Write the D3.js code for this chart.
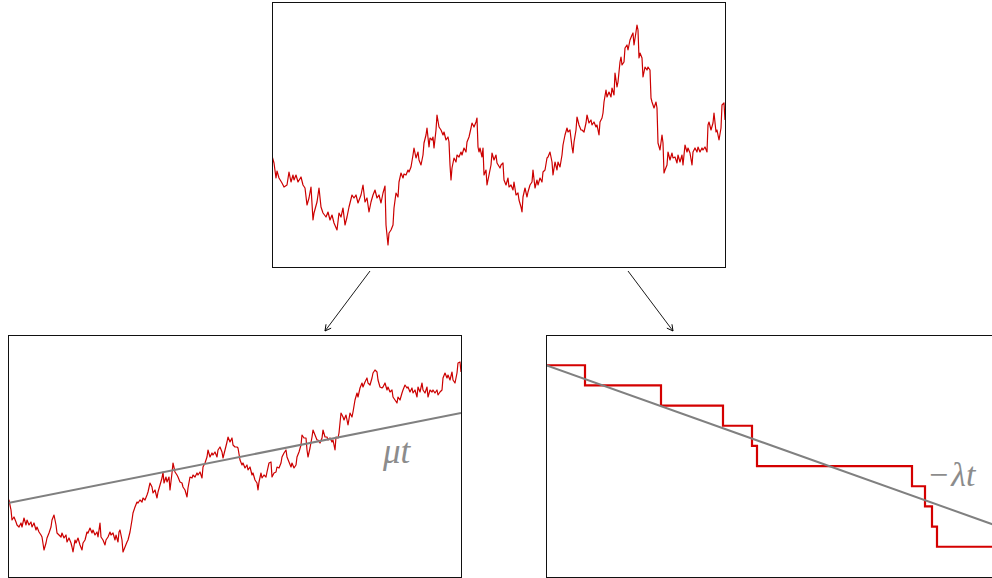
<!DOCTYPE html>
<html>
<head>
<meta charset="utf-8">
<script src="https://cdn.jsdelivr.net/npm/d3@7"></script>
<style>
  body { margin: 0; background: #fff; }
  svg { display: block; }
</style>
</head>
<body>
<div id="container"></div>
<script>
// time runs over 453 days in every panel
const period = 453;

// Levy process: drift + brownian + negative jumps  [day, level]
const levyPath = [
  [0,111],[2,104],[4,89],[5,96],[7,89],[10,84],[12,80],[15,82],[17,95],[19,85],[21,92],[22,87],[24,92],[26,85],
  [29,90],[31,82],[33,79],[35,62],[37,69],[39,80],[41,47],[42,54],[45,65],[47,79],[49,60],[51,54],[54,50],[56,55],
  [58,47],[60,52],[62,44],[65,37],[67,54],[69,50],[71,59],[73,42],[75,50],[77,60],[80,72],[82,69],[84,72],[86,64],
  [89,72],[91,82],[93,65],[95,69],[97,55],[99,65],[101,72],[103,77],[105,69],[107,72],[109,64],[111,74],[113,81],
  [114,42],[116,22],[117,34],[119,37],[121,42],[122,59],[124,74],[126,70],[127,85],[129,94],[131,89],[132,93],[134,92],
  [136,97],[137,95],[139,100],[141,112],[142,119],[144,109],[146,115],[147,107],[149,102],[151,112],[152,124],[154,132],
  [155,139],[157,120],[158,129],[160,127],[161,130],[162,119],[164,137],[165,152],[167,140],[169,137],[171,132],[172,135],
  [174,127],[176,130],[177,125],[178,102],[179,87],[180,99],[182,109],[184,105],[185,112],[187,110],[189,115],[190,112],
  [192,119],[194,115],[195,125],[197,130],[199,139],[200,144],[202,140],[204,145],[205,149],[206,120],[207,115],[208,119],
  [210,110],[211,119],[212,92],[214,97],[215,82],[217,92],[219,102],[220,114],[222,107],[224,112],[225,104],[228,99],
  [229,102],[231,104],[232,87],[234,82],[236,89],[237,80],[239,82],[241,77],[242,85],[244,72],[246,74],[247,67],[249,60],
  [250,55],[251,70],[253,79],[255,70],[256,75],[258,82],[260,85],[261,97],[263,79],[265,87],[266,82],[268,89],[270,85],
  [271,95],[273,97],[275,109],[276,110],[278,115],[280,105],[281,92],[283,105],[285,97],[286,105],[288,100],[290,112],
  [291,122],[293,132],[295,139],[296,135],[298,137],[300,120],[301,114],[302,125],[304,137],[305,150],[307,142],[309,137],
  [310,137],[312,135],[314,144],[315,152],[317,144],[319,147],[320,142],[322,145],[324,140],[325,142],[327,132],[328,145],
  [330,149],[331,154],[332,165],[334,177],[335,170],[337,175],[339,170],[340,179],[342,172],[343,194],[345,180],[346,185],
  [348,205],[349,210],[350,202],[352,205],[353,219],[355,222],[356,217],[358,227],[360,232],[361,234],[362,222],[364,235],
  [365,242],[366,237],[367,209],[368,214],[370,209],[371,190],[373,200],[375,197],[376,200],[378,197],[379,169],[380,165],
  [382,159],[384,165],[385,159],[386,124],[388,117],[390,132],[391,124],[392,94],[393,97],[395,102],[396,115],[398,107],
  [400,114],[401,109],[403,110],[405,104],[406,112],[408,105],[410,112],[411,102],[413,122],[415,115],[416,119],[418,114],
  [420,102],[421,115],[423,119],[425,115],[426,120],[428,115],[430,119],[431,117],[433,120],[435,115],[436,142],[437,145],
  [439,137],[441,144],[442,154],[444,135],[445,137],[447,127],[449,139],[450,162],[452,164],[453,147]
];

// brownian motion with drift  [day, level]
const driftPath = [
  [0,0],[1,3],[3,-7],[4,-17],[6,-14],[8,-19],[9,-22],[11,-24],[13,-20],[14,-24],[16,-15],[18,-22],[19,-17],[21,-22],
  [23,-19],[24,-24],[26,-20],[28,-27],[29,-24],[31,-29],[33,-32],[34,-34],[36,-47],[38,-40],[39,-35],[41,-30],[43,-24],
  [44,-17],[46,-12],[48,-22],[49,-30],[51,-32],[53,-34],[54,-30],[56,-35],[58,-32],[59,-39],[61,-35],[63,-40],[64,-44],
  [65,-49],[67,-37],[68,-40],[70,-35],[72,-42],[74,-47],[75,-40],[77,-37],[79,-29],[80,-30],[82,-25],[84,-30],[85,-27],
  [87,-32],[89,-29],[90,-34],[92,-20],[93,-34],[95,-37],[97,-42],[98,-37],[100,-34],[102,-29],[103,-32],[105,-30],
  [107,-37],[108,-32],[110,-39],[111,-29],[112,-27],[114,-37],[115,-49],[117,-44],[119,-39],[120,-37],[122,-29],[124,-17],
  [125,-10],[127,-4],[129,1],[130,0],[132,3],[134,1],[135,5],[137,3],[139,8],[140,11],[142,20],[144,16],[145,10],[147,13],
  [149,5],[150,11],[152,18],[154,25],[155,31],[156,20],[158,26],[159,21],[161,26],[162,13],[164,30],[165,40],[167,31],
  [169,28],[170,26],[172,21],[174,20],[175,16],[177,13],[179,6],[180,15],[182,26],[184,25],[185,28],[187,26],[189,30],
  [190,28],[192,31],[194,25],[195,36],[197,40],[199,46],[200,53],[202,46],[204,50],[205,48],[207,51],[209,46],[210,53],
  [212,56],[214,51],[215,45],[217,53],[219,61],[220,66],[222,61],[224,65],[225,58],[227,56],[229,56],[230,55],[232,43],
  [234,38],[235,40],[237,35],[239,38],[240,33],[242,36],[244,28],[245,30],[247,23],[249,20],[250,13],[251,21],[253,30],
  [254,25],[256,28],[258,26],[259,31],[261,40],[263,41],[264,26],[266,30],[268,31],[269,36],[271,35],[273,40],[274,46],
  [276,50],[278,53],[279,46],[281,41],[283,36],[284,40],[286,35],[288,38],[289,46],[291,51],[293,58],[294,68],[296,65],
  [298,65],[299,53],[300,46],[302,55],[304,66],[305,73],[307,68],[309,63],[310,63],[312,60],[314,65],[315,73],[317,66],
  [319,66],[320,63],[322,65],[324,61],[325,63],[327,53],[328,66],[330,65],[331,70],[333,90],[335,86],[336,83],[338,88],
  [340,78],[342,90],[344,86],[345,91],[347,103],[349,110],[350,106],[352,115],[354,120],[355,116],[357,121],[359,125],
  [360,120],[362,118],[364,125],[365,130],[367,133],[369,131],[370,123],[372,116],[374,115],[375,116],[377,120],[379,113],
  [380,116],[382,111],[384,113],[385,106],[387,103],[389,100],[390,106],[392,103],[394,110],[395,113],[397,118],[399,115],
  [400,116],[402,111],[404,115],[405,110],[407,113],[409,106],[410,116],[412,111],[414,120],[415,113],[417,110],[419,116],
  [420,106],[422,113],[424,111],[425,113],[427,110],[429,113],[430,108],[432,111],[434,113],[435,125],[437,130],[439,125],
  [440,128],[442,123],[444,131],[445,123],[447,120],[449,130],[450,140],[452,141],[453,131]
];
const mu = 90; // drift over the whole period

// compound poisson part: jump times and counting level
const jumpDays   = [0, 39, 115, 177, 206, 211, 366, 379, 386, 391, 453];
const jumpLevels = [0, -1, -2, -3, -4, -5, -6, -7, -8, -9, -9];
const lambda = 8; // expected jumps over the period

const red = "#cc0000", grey = "#808080";

const svg = d3.select("#container").append("svg")
  .attr("width", 992).attr("height", 578);

const defs = svg.append("defs");
defs.append("marker")
  .attr("id", "arrow")
  .attr("viewBox", "-8 -5 10 10")
  .attr("refX", 0).attr("refY", 0)
  .attr("markerWidth", 10).attr("markerHeight", 10)
  .attr("markerUnits", "userSpaceOnUse")
  .attr("orient", "auto")
  .append("path")
  .attr("d", "M-6,-3.2 L0,0 L-6,3.2")
  .attr("fill", "none").attr("stroke", "#000").attr("stroke-width", 0.9);

// make a framed panel with its own scales
function panel(id, left, top, w, h, yDomain) {
  const x = d3.scaleLinear().domain([0, period]).range([left, left + w]);
  const y = d3.scaleLinear().domain(yDomain).range([top + h, top]);
  defs.append("clipPath").attr("id", "clip-" + id)
    .append("rect").attr("x", left).attr("y", top).attr("width", w).attr("height", h);
  const g = svg.append("g").attr("clip-path", `url(#clip-${id})`);
  svg.append("rect")
    .attr("x", left + 0.5).attr("y", top + 0.5)
    .attr("width", w).attr("height", h)
    .attr("fill", "none").attr("stroke", "#111").attr("stroke-width", 1);
  return {x, y, g};
}

// top: levy path
const P1 = panel("top", 272, 2, 453, 265, [0, 265]);
P1.g.append("path")
  .datum(levyPath)
  .attr("d", d3.line().x(d => P1.x(d[0])).y(d => P1.y(d[1])))
  .attr("fill", "none").attr("stroke", red).attr("stroke-width", 1.2)
  .attr("stroke-linejoin", "round");

// bottom left: brownian with drift
const P2 = panel("left", 8, 335, 453, 242, [-74, 168]);
P2.g.append("path")
  .datum(driftPath)
  .attr("d", d3.line().x(d => P2.x(d[0])).y(d => P2.y(d[1])))
  .attr("fill", "none").attr("stroke", red).attr("stroke-width", 1.2)
  .attr("stroke-linejoin", "round");
P2.g.append("path")
  .datum([0, period])
  .attr("d", d3.line().x(d => P2.x(d)).y(d => P2.y(mu * d / period)))
  .attr("fill", "none").attr("stroke", grey).attr("stroke-width", 2);

// bottom right: jumps
const P3 = panel("right", 546, 335, 453, 242, [-10.5, 1.5]);
P3.g.append("path")
  .datum(d3.zip(jumpDays, jumpLevels))
  .attr("d", d3.line().curve(d3.curveStepAfter).x(d => P3.x(d[0])).y(d => P3.y(d[1])))
  .attr("fill", "none").attr("stroke", "#d40000").attr("stroke-width", 2.2);
P3.g.append("path")
  .datum([0, period])
  .attr("d", d3.line().x(d => P3.x(d)).y(d => P3.y(-lambda * d / period)))
  .attr("fill", "none").attr("stroke", grey).attr("stroke-width", 2);

// labels
svg.append("text")
  .attr("x", 383).attr("y", 463)
  .attr("font-family", "'Liberation Serif', serif").attr("font-style", "italic")
  .attr("font-size", 35).attr("fill", "#8c8c8c")
  .text("μt");

const lt = svg.append("text")
  .attr("x", 929).attr("y", 486)
  .attr("font-family", "'Liberation Serif', serif")
  .attr("font-size", 34).attr("fill", "#8c8c8c");
lt.append("tspan").text("−");
lt.append("tspan").attr("dx", 3).attr("font-style", "italic").text("λt");

// arrows from top panel to the two parts
svg.append("line")
  .attr("x1", 370).attr("y1", 271).attr("x2", 325).attr("y2", 331)
  .attr("stroke", "#000").attr("stroke-width", 0.9).attr("marker-end", "url(#arrow)");
svg.append("line")
  .attr("x1", 628).attr("y1", 271).attr("x2", 673).attr("y2", 331)
  .attr("stroke", "#000").attr("stroke-width", 0.9).attr("marker-end", "url(#arrow)");
</script>
</body>
</html>
